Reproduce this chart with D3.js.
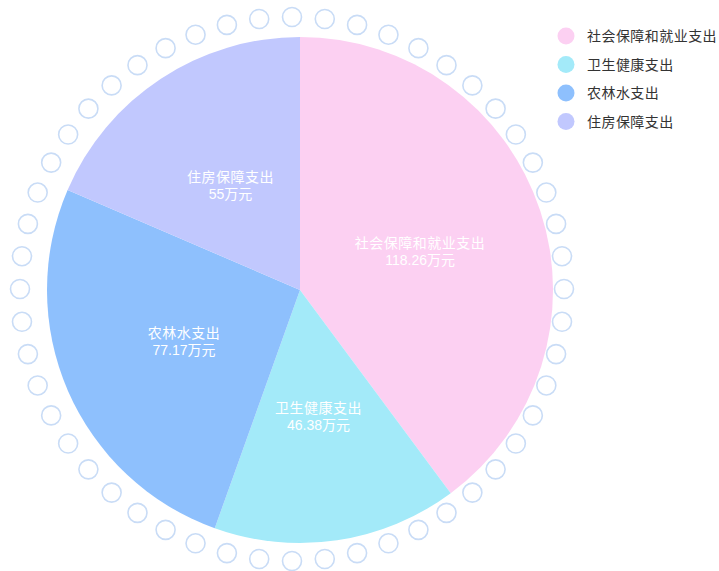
<!DOCTYPE html>
<html><head><meta charset="utf-8">
<script src="https://cdn.jsdelivr.net/npm/d3@7"></script>
<style>
html,body{margin:0;padding:0;background:#fff;}
svg{display:block;font-family:"Liberation Sans",Arial,"Noto Sans CJK SC",sans-serif;}
</style></head>
<body>
<svg id="chart" width="719" height="571"></svg>
<script>
const categories = ["社会保障和就业支出","卫生健康支出","农林水支出","住房保障支出"];
const values = [118.26, 46.38, 77.17, 55];
const valueLabels = ["118.26万元","46.38万元","77.17万元","55万元"];
const colors = ["#fcd0f2","#a3eaf9","#8ec0fd","#c1c8fe"];
const ringCount = 52;

const svg = d3.select("#chart");
const cx = 300, cy = 290, R = 253;
const ringCx = 292, ringCy = 289, ringR = 272;

// decorative ring of circles
const ringIdx = d3.range(ringCount);
const ang = d3.scaleLinear().domain([0, ringCount]).range([0, 2*Math.PI]);
svg.append("g").selectAll("circle").data(ringIdx).join("circle")
  .attr("cx", i => ringCx + ringR*Math.sin(ang(i)))
  .attr("cy", i => ringCy - ringR*Math.cos(ang(i)))
  .attr("r", 9.5)
  .attr("fill", "none")
  .attr("stroke", "#c9dcf6")
  .attr("stroke-width", 1.6);

const data = categories.map((c,i)=>({name:c, value:values[i], label:valueLabels[i], color:colors[i]}));
const pie = d3.pie().value(d=>d.value).sort(null);
const arc = d3.arc().innerRadius(0).outerRadius(R);
const arcs = pie(data);

const g = svg.append("g").attr("transform", `translate(${cx},${cy})`);
g.selectAll("path").data(arcs).join("path")
  .attr("d", arc)
  .attr("fill", d=>d.data.color);

const lbl = g.selectAll("text").data(arcs).join("text")
  .attr("transform", d=>`translate(${arc.centroid(d)})`)
  .attr("text-anchor","middle")
  .attr("fill","#fff")
  .style("font-size","14px");
lbl.append("tspan").attr("x",0).attr("dy","-0.15em").style("letter-spacing","0.5px").text(d=>d.data.name);
lbl.append("tspan").attr("x",0).attr("dy","1.2em").text(d=>d.data.label);

// legend
const leg = svg.append("g");
const ly = d3.scalePoint().domain(categories).range([36, 121.5]);
const items = leg.selectAll("g").data(data).join("g")
  .attr("transform", d=>`translate(566,${ly(d.name)})`);
items.append("circle").attr("r", 8.5).attr("fill", d=>d.color);
items.append("text").attr("x", 21).attr("dy","0.36em")
  .attr("fill","#333").style("font-size","14px").style("letter-spacing","0.45px").text(d=>d.name);
</script>
</body></html>
